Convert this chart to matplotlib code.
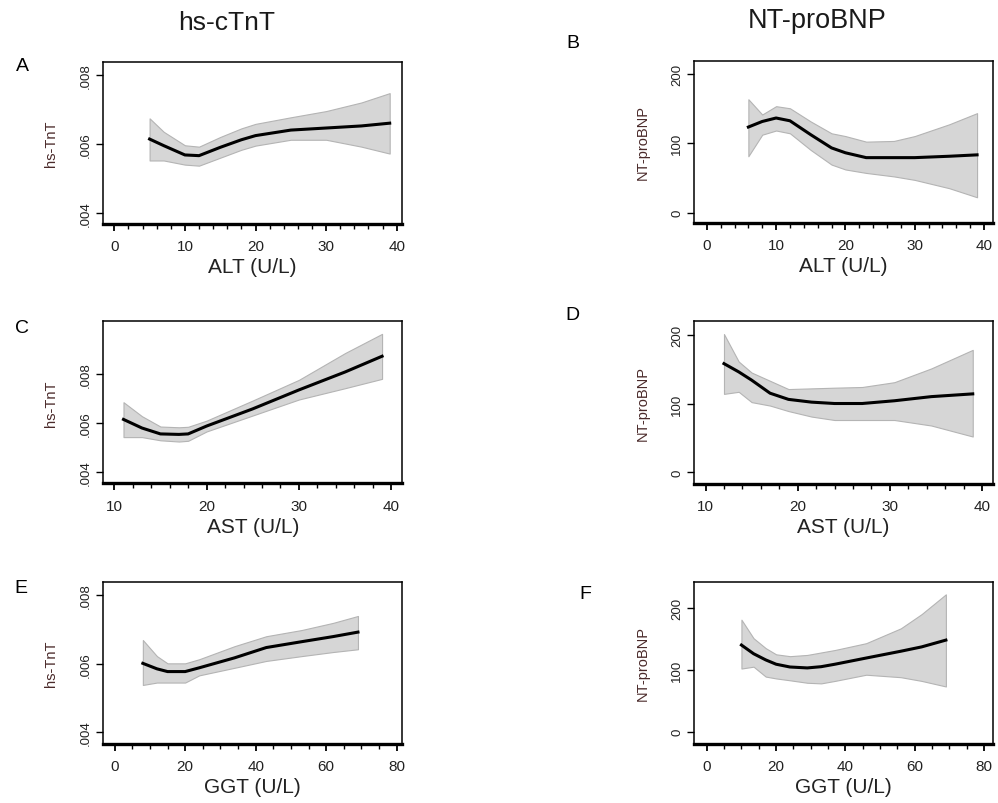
import matplotlib
matplotlib.use("Agg")
import matplotlib.pyplot as plt
from matplotlib.ticker import FixedLocator, MultipleLocator

plt.rcParams['font.family'] = ['Liberation Sans', 'DejaVu Sans']

# panel A: ALT vs hs-TnT
alt_a = [5, 7, 10, 12, 15, 18, 20, 25, 30, 35, 39]
tnt_alt_fit = [0.00614, 0.00595, 0.00568, 0.00566, 0.00590, 0.00612, 0.00624, 0.00640, 0.00646, 0.00652, 0.00660]
tnt_alt_lo = [0.00552, 0.00552, 0.00540, 0.00537, 0.00560, 0.00583, 0.00595, 0.00612, 0.00612, 0.00592, 0.00572]
tnt_alt_hi = [0.00674, 0.00635, 0.00596, 0.00592, 0.00620, 0.00645, 0.00658, 0.00677, 0.00695, 0.00720, 0.00747]

# panel B: ALT vs NT-proBNP
alt_b = [6, 8, 10, 12, 15, 18, 20, 23, 27, 30, 35, 39]
bnp_alt_fit = [123, 131, 136, 132, 112, 93, 86, 79, 79, 79, 81, 83]
bnp_alt_lo = [81, 112, 118, 114, 90, 69, 62, 57, 52, 47, 35, 22]
bnp_alt_hi = [163, 141, 153, 150, 131, 114, 110, 102, 103, 110, 127, 143]

# panel C: AST vs hs-TnT
ast_c = [11, 13, 15, 17, 18, 20, 25, 30, 35, 39]
tnt_ast_fit = [0.00615, 0.00580, 0.00556, 0.00554, 0.00556, 0.00588, 0.00658, 0.00735, 0.00808, 0.00872]
tnt_ast_lo = [0.00543, 0.00543, 0.00530, 0.00525, 0.00528, 0.00566, 0.00631, 0.00696, 0.00742, 0.00780]
tnt_ast_hi = [0.00685, 0.00628, 0.00586, 0.00583, 0.00585, 0.00610, 0.00692, 0.00776, 0.00885, 0.00963]

# panel D: AST vs NT-proBNP
ast_d = [12, 13.6, 15, 17, 19, 21.5, 24, 27, 30.5, 34.5, 39]
bnp_ast_fit = [158, 146, 134, 115, 106, 102, 100, 100, 104, 110, 114]
bnp_ast_lo = [114, 117, 102, 97, 89, 81, 76, 76, 76, 68, 52]
bnp_ast_hi = [201, 161, 145, 133, 121, 122, 123, 124, 131, 151, 178]

# panel E: GGT vs hs-TnT
ggt_e = [8, 12, 15, 20, 24, 34, 43, 53, 62, 69]
tnt_ggt_fit = [0.00601, 0.00585, 0.00577, 0.00577, 0.00588, 0.00617, 0.00647, 0.00664, 0.00679, 0.00692]
tnt_ggt_lo = [0.00538, 0.00545, 0.00545, 0.00545, 0.00566, 0.00588, 0.00608, 0.00622, 0.00634, 0.00642]
tnt_ggt_hi = [0.00669, 0.00622, 0.00601, 0.00601, 0.00613, 0.00651, 0.00680, 0.00698, 0.00719, 0.00739]

# panel F: GGT vs NT-proBNP
ggt_f = [10, 13.5, 17, 20, 24, 29, 33, 37, 46, 56, 62, 69]
bnp_ggt_fit = [140, 126, 116, 109, 104.5, 103, 105, 109, 119, 130, 137, 148]
bnp_ggt_lo = [102, 105, 89, 86, 83, 79, 78, 82, 92, 88, 82, 73]
bnp_ggt_hi = [181, 151, 135, 125, 122, 124, 128, 132, 143, 167, 190, 222]

tnt_ticks = [0.004, 0.006, 0.008]
tnt_labels = ['.004', '.006', '.008']
bnp_ticks = [0, 100, 200]
bnp_labels = ['0', '100', '200']

fig = plt.figure(figsize=(9.98, 8.04), dpi=100)

TXT = '#222222'
YLAB = '#4a2a2a'


def panel(rect, x, fit, lo, hi, xlim, ylim, xticks, xminor, yticks, ylabels,
          ylabel, xlabel, letter, letter_pos):
    ax = fig.add_axes(rect)
    ax.fill_between(x, lo, hi, facecolor='#d6d6d6', edgecolor='#b4b4b4', linewidth=0.8)
    ax.plot(x, fit, color='black', linewidth=2.2)
    ax.set_xlim(*xlim)
    ax.set_ylim(*ylim)
    ax.xaxis.set_major_locator(FixedLocator(xticks))
    ax.xaxis.set_minor_locator(MultipleLocator(xminor))
    ax.set_xticklabels([str(t) for t in xticks])
    ax.yaxis.set_major_locator(FixedLocator(yticks))
    ax.set_yticklabels(ylabels, rotation=90, va='center')
    ax.tick_params(axis='x', which='major', length=5, width=1.3, pad=6,
                   labelsize=11, labelcolor=TXT)
    ax.tick_params(axis='x', which='minor', length=3.5, width=1.0)
    ax.tick_params(axis='y', which='major', length=5, width=1.0, pad=3,
                   labelsize=9.5, labelcolor=TXT)
    for s in ['top', 'left', 'right']:
        ax.spines[s].set_linewidth(1.1)
    ax.spines['bottom'].set_linewidth(2.4)
    ax.set_xlabel(xlabel, fontsize=15, color=TXT, labelpad=3)
    ax.set_ylabel(ylabel, fontsize=10.5, color=YLAB)
    ax.yaxis.set_label_coords(-0.15, 0.5)
    fig.text(letter_pos[0], letter_pos[1], letter, fontsize=14, color='black',
             ha='center', va='center')
    return ax


left_x = 0.1032
right_x = 0.6957
w = 0.300
h = 0.2015

panel([left_x, 0.7201, w, h], alt_a, tnt_alt_fit, tnt_alt_lo, tnt_alt_hi,
      (-1.6, 40.8), (0.00368, 0.00837), [0, 10, 20, 30, 40], 2,
      tnt_ticks, tnt_labels, 'hs-TnT', 'ALT (U/L)', 'A', (0.022, 0.917))
panel([right_x, 0.7214, 0.2993, h], alt_b, bnp_alt_fit, bnp_alt_lo, bnp_alt_hi,
      (-1.8, 41.3), (-15, 218), [0, 10, 20, 30, 40], 2,
      bnp_ticks, bnp_labels, 'NT-proBNP', 'ALT (U/L)', 'B', (0.574, 0.946))

panel([left_x, 0.3976, w, 0.2015], ast_c, tnt_ast_fit, tnt_ast_lo, tnt_ast_hi,
      (8.78, 41.2), (0.00355, 0.01014), [10, 20, 30, 40], 2,
      tnt_ticks, tnt_labels, 'hs-TnT', 'AST (U/L)', 'C', (0.022, 0.592))
panel([right_x, 0.3968, 0.2993, 0.2023], ast_d, bnp_ast_fit, bnp_ast_lo, bnp_ast_hi,
      (8.78, 41.2), (-17, 219.5), [10, 20, 30, 40], 2,
      bnp_ticks, bnp_labels, 'NT-proBNP', 'AST (U/L)', 'D', (0.574, 0.608))

panel([left_x, 0.0734, w, 0.2019], ggt_e, tnt_ggt_fit, tnt_ggt_lo, tnt_ggt_hi,
      (-3.3, 81.6), (0.00366, 0.00839), [0, 20, 40, 60, 80], 5,
      tnt_ticks, tnt_labels, 'hs-TnT', 'GGT (U/L)', 'E', (0.021, 0.268))
panel([right_x, 0.0734, 0.2993, 0.2019], ggt_f, bnp_ggt_fit, bnp_ggt_lo, bnp_ggt_hi,
      (-3.6, 82.6), (-20, 242.5), [0, 20, 40, 60, 80], 5,
      bnp_ticks, bnp_labels, 'NT-proBNP', 'GGT (U/L)', 'F', (0.586, 0.260))

fig.text(0.2275, 0.972, 'hs-cTnT', fontsize=19, ha='center', va='center', color='#1a1a1a')
fig.text(0.8185, 0.974, 'NT-proBNP', fontsize=19.5, ha='center', va='center', color='#1a1a1a')

fig.savefig('out.png', dpi=100, facecolor='white')
